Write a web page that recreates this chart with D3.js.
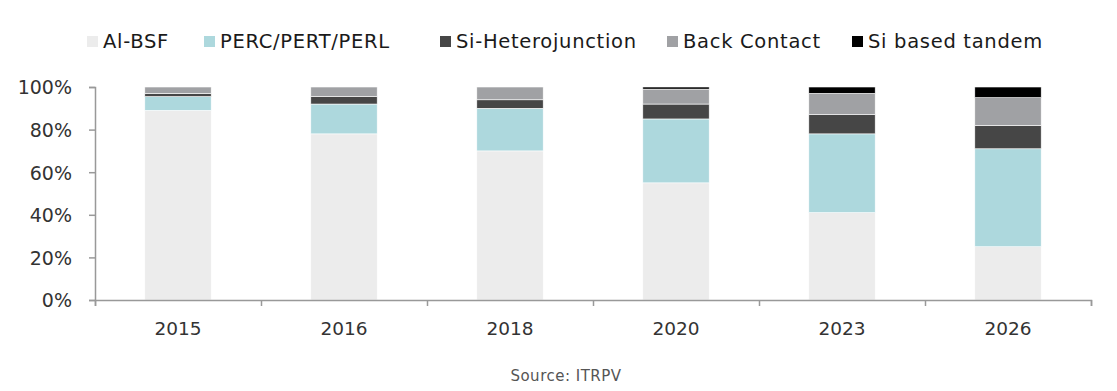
<!DOCTYPE html>
<html><head><meta charset="utf-8">
<script src="https://cdn.jsdelivr.net/npm/d3@7"></script>
<style>body{margin:0;background:#fff}svg{display:block;font-family:"DejaVu Sans",sans-serif}</style>
</head><body><svg id="c" width="1117" height="391"></svg>
<script>
const categories = ["2015","2016","2018","2020","2023","2026"];
const seriesNames = ["Al-BSF","PERC/PERT/PERL","Si-Heterojunction","Back Contact","Si based tandem"];
const alBSF      = [89, 78, 70, 55, 41, 25];
const perc       = [6.5, 14, 20, 30, 37, 46];
const siHet      = [1.5, 3.5, 4, 7, 9, 11];
const backContact= [3, 4.5, 6, 7, 10, 13];
const tandem     = [0, 0, 0, 1, 3, 5];
const yTicks = [0, 20, 40, 60, 80, 100];
const colors = ["#ececec","#add8dd","#464646","#a0a1a4","#000000"];
const FONT = '"DejaVu Sans",sans-serif';

const svg = d3.select("#c");
const seriesVals = [alBSF, perc, siHet, backContact, tandem];
const rows = categories.map((c,i)=>{const r={cat:c}; seriesNames.forEach((s,j)=>r[s]=seriesVals[j][i]); return r;});
const stack = d3.stack().keys(seriesNames)(rows);

const x = d3.scaleBand().domain(categories).range([95,1091]).paddingInner(0.6).paddingOuter(0.3);
const y = d3.scaleLinear().domain([0,100]).range([300,87]);

svg.append("g").selectAll("g").data(stack).join("g").attr("fill",(d,i)=>colors[i])
  .selectAll("rect").data(d=>d).join("rect")
  .attr("x",d=>x(d.data.cat)).attr("width",x.bandwidth())
  .attr("y",d=>y(d[1])).attr("height",d=>Math.max(0,y(d[0])-y(d[1])))
  .attr("stroke","#fff").attr("stroke-width",0.6);

// y axis
const ya = svg.append("g").attr("transform","translate(95,0)")
  .call(d3.axisLeft(y).tickValues(yTicks).tickFormat(d=>d+"%").tickSize(6).tickPadding(17));
ya.attr("font-family",FONT);
ya.select(".domain").attr("stroke","#999").attr("stroke-width",1.5);
ya.selectAll(".tick line").attr("stroke","#999").attr("stroke-width",1.5);
ya.selectAll("text").attr("font-size",19).attr("fill","#333").attr("dy","0.36em");

// x axis labels
const xa = svg.append("g").attr("transform","translate(0,300)")
  .call(d3.axisBottom(x).tickSize(0).tickPadding(22));
xa.attr("font-family",FONT);
xa.select(".domain").remove();
xa.selectAll("text").attr("font-size",18.5).attr("fill","#333");

// x axis line with boundary ticks
const xb = d3.scaleLinear().domain([0,categories.length]).range([95,1091]);
const xba = svg.append("g").attr("transform","translate(0,300)")
  .call(d3.axisBottom(xb).ticks(categories.length).tickFormat("").tickSize(6).tickSizeOuter(6));
xba.select(".domain").attr("stroke","#999").attr("stroke-width",1.5);
xba.selectAll(".tick line").attr("stroke","#999").attr("stroke-width",1.5);

// legend
const legX = [87, 204, 440, 667, 852];
const lg = svg.append("g").selectAll("g").data(seriesNames).join("g")
  .attr("transform",(d,i)=>`translate(${legX[i]},42)`);
lg.append("rect").attr("x",0).attr("y",-6).attr("width",11).attr("height",11).attr("fill",(d,i)=>colors[i]);
lg.append("text").attr("x",16).attr("y",6).attr("font-size",19.5).attr("letter-spacing",0.7).attr("fill","#1a1a1a").text(d=>d);

svg.append("text").attr("x",566).attr("y",381).attr("text-anchor","middle").attr("font-size",15).attr("letter-spacing",0.5).attr("fill","#555").text("Source: ITRPV");
</script></body></html>
